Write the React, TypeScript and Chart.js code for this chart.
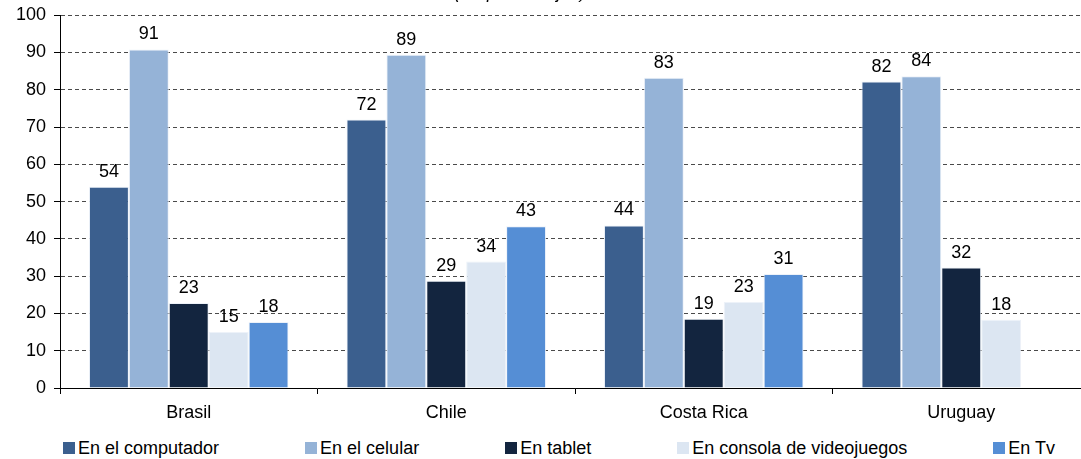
import React, { useEffect, useRef } from 'react';
import { Chart, registerables } from 'chart.js';

Chart.register(...registerables);

const categories = ['Brasil', 'Chile', 'Costa Rica', 'Uruguay'];
const seriesNames = ['En el computador', 'En el celular', 'En tablet', 'En consola de videojuegos', 'En Tv'];
const computador = [54.0, 72.0, 43.6, 82.2];
const celular = [90.8, 89.4, 83.2, 83.6];
const tablet = [22.8, 28.8, 18.6, 32.3];
const consola = [15.0, 33.9, 23.1, 18.3];
const tv: (number | null)[] = [17.7, 43.4, 30.6, null];
const seriesColors = ['#3B5F8E', '#95B3D7', '#13253F', '#DCE6F2', '#558ED5'];
const yMin = 0;
const yMax = 100;
const yStep = 10;
const subtitle = '(En porcentajes)';

const FONT = "'Liberation Sans', Arial, sans-serif";

export default function App() {
  const ref = useRef<HTMLCanvasElement | null>(null);

  useEffect(() => {
    document.body.style.margin = '0';
    const canvas = ref.current!;
    const seriesData = [computador, celular, tablet, consola, tv];

    const subtitlePlugin = {
      id: 'subtitleCut',
      afterDraw(chart: any) {
        const ctx = chart.ctx;
        ctx.save();
        ctx.font = `italic 18px ${FONT}`;
        ctx.fillStyle = '#000';
        ctx.textAlign = 'center';
        ctx.textBaseline = 'alphabetic';
        ctx.fillText(subtitle, 520, -2.5);
        ctx.restore();
      },
    };

    const valueLabels = {
      id: 'valueLabels',
      afterDatasetsDraw(chart: any) {
        const ctx = chart.ctx;
        ctx.save();
        ctx.font = `18px ${FONT}`;
        ctx.fillStyle = '#000';
        ctx.textAlign = 'center';
        ctx.textBaseline = 'bottom';
        chart.data.datasets.forEach((ds: any, i: number) => {
          const meta = chart.getDatasetMeta(i);
          meta.data.forEach((bar: any, j: number) => {
            const v = ds.data[j];
            if (v === null || v === undefined) return;
            ctx.fillText(String(Math.round(v)), bar.x, bar.y - 6);
          });
        });
        ctx.restore();
      },
    };

    const chart = new Chart(canvas, {
      type: 'bar',
      data: {
        labels: categories,
        datasets: seriesNames.map((name, i) => ({
          label: name,
          data: seriesData[i],
          backgroundColor: seriesColors[i],
          borderColor: 'rgba(235,241,248,0.9)',
          borderWidth: 1,
          barPercentage: 1,
          categoryPercentage: 0.775,
        })),
      },
      options: {
        responsive: false,
        animation: false,
        devicePixelRatio: 1,
        layout: { padding: { top: 15, left: 0, right: 0, bottom: 0 } },
        plugins: {
          legend: { display: false },
          tooltip: { enabled: false },
          title: { display: false },
        },
        scales: {
          x: {
            grid: {
              offset: true,
              drawOnChartArea: false,
              drawTicks: true,
              tickLength: 6,
              color: '#000',
            },
            border: { color: '#000', width: 1 },
            ticks: { font: { family: FONT, size: 18 }, color: '#000', padding: 8 },
            afterFit: (s: any) => {
              s.height = 42;
            },
          },
          y: {
            min: yMin,
            max: yMax,
            ticks: { stepSize: yStep, font: { family: FONT, size: 18, lineHeight: 0.8 }, color: '#000', padding: 8 },
            grid: { color: '#4a4a4a', tickColor: '#000', tickLength: 6, lineWidth: 1 },
            border: { dash: [4, 3], color: '#000', width: 1 },
            afterFit: (s: any) => {
              s.width = 60;
            },
          },
        },
      },
      plugins: [valueLabels, subtitlePlugin],
    });
    return () => chart.destroy();
  }, []);

  return (
    <div style={{ position: 'relative', width: 1081, height: 459, overflow: 'hidden', background: '#fff' }}>
      <canvas ref={ref} width={1090} height={430} style={{ position: 'absolute', left: 0, top: 0 }} />
      <div
        style={{
          position: 'absolute',
          left: 63,
          width: 992,
          top: 438,
          display: 'flex',
          justifyContent: 'space-between',
          alignItems: 'center',
          fontFamily: FONT,
          fontSize: 18,
          lineHeight: '20px',
          color: '#000',
        }}
      >
        {seriesNames.map((name, i) => (
          <div key={name} style={{ display: 'flex', alignItems: 'center', whiteSpace: 'nowrap' }}>
            <span style={{ display: 'inline-block', width: 12, height: 12, background: seriesColors[i], marginRight: 3 }} />
            <span>{name}</span>
          </div>
        ))}
      </div>
    </div>
  );
}
